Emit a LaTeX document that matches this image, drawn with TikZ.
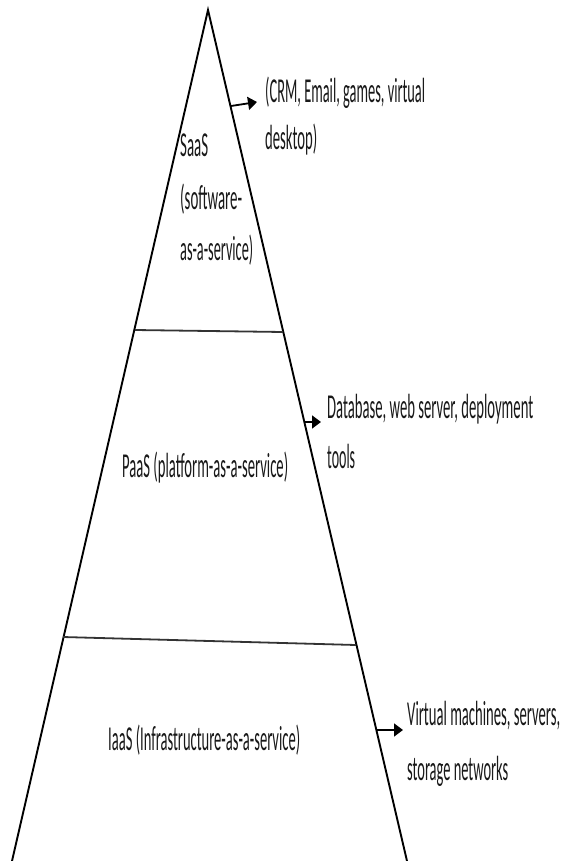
\documentclass[tikz,border=0pt]{standalone}
\usepackage{fontspec}
\setmainfont{Carlito}
\usetikzlibrary{arrows.meta}
\newcommand\sqz[2]{\resizebox{#1pt}{\height}{#2}}
\begin{document}
\begin{tikzpicture}[x=1pt,y=-1pt,
  lbl/.style={anchor=base west, inner sep=0pt, text=black!90, font=\fontsize{35}{40}\selectfont},
  edge/.style={line width=1.9pt},
  divider/.style={line width=1.8pt, black!80},
  pt/.style={-{Triangle[length=9pt,width=13pt]}, line width=1.8pt}]
\useasboundingbox (0,0) rectangle (560,861);
% pyramid
\coordinate (apex) at (208,10);
\coordinate (bl) at (12,861);
\coordinate (br) at (407,861);
\draw[edge] (bl) -- (apex) -- (br);
\coordinate (d1l) at (135,330);
\coordinate (d1r) at (283,332);
\coordinate (d2l) at (63,637);
\coordinate (d2r) at (356,645);
\draw[divider] (d1l) -- (d1r);
\draw[divider] (d2l) -- (d2r);
% layer labels
\node[lbl] (saas1) at (180,157) {\sqz{28}{SaaS}};
\node[lbl] (saas2) at (180,209) {\sqz{62}{(software-}};
\node[lbl] (saas3) at (180,260) {\sqz{73}{as-a-service)}};
\node[lbl] (paas) at (122,477) {\sqz{166}{PaaS (platform-as-a-service)}};
\node[lbl] (iaas) at (108,750) {\sqz{192}{IaaS (Infrastructure-as-a-service)}};
% descriptions
\node[lbl] (crm1) at (265,103) {\sqz{160}{(CRM, Email, games, virtual}};
\node[lbl] (crm2) at (265,150) {\sqz{52}{desktop)}};
\node[lbl] (db1) at (327,418) {\sqz{206}{Database, web server, deployment}};
\node[lbl] (db2) at (327,468) {\sqz{28}{tools}};
\node[lbl] (vm1) at (407,725) {\sqz{153}{Virtual machines, servers,}};
\node[lbl] (vm2) at (407,780) {\sqz{101}{storage networks}};
% arrows
\coordinate (a1s) at (231,106);
\coordinate (a1e) at (257,102);
\coordinate (a2s) at (304,422);
\coordinate (a2e) at (321,422);
\coordinate (a3s) at (377,730);
\coordinate (a3e) at (403,730);
\draw[pt] (a1s) -- (a1e);
\draw[pt] (a2s) -- (a2e);
\draw[pt] (a3s) -- (a3e);
\end{tikzpicture}
\end{document}
